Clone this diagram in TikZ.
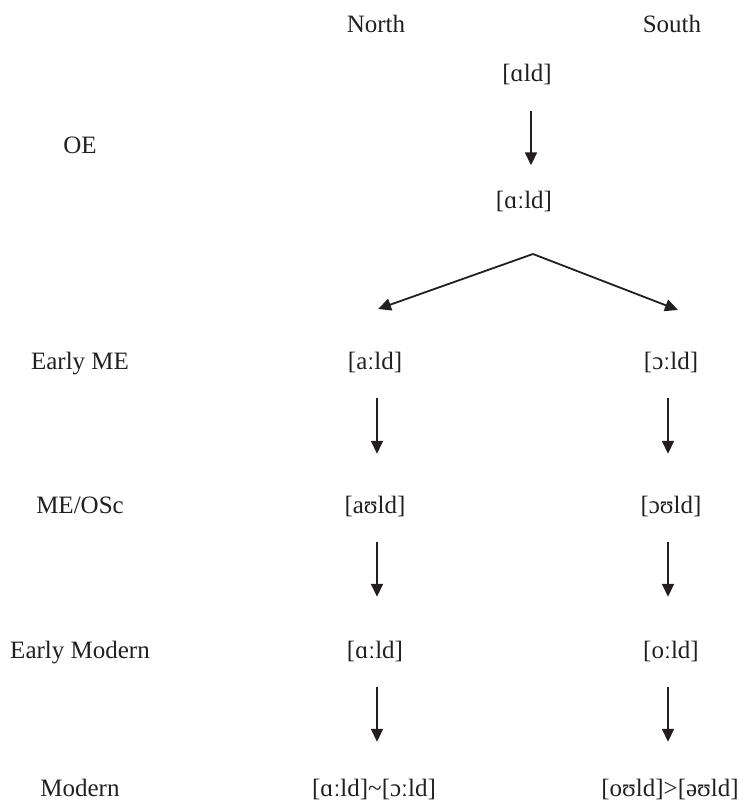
\documentclass[tikz,border=0pt]{standalone}
\usepackage{fontspec}
\setmainfont{Liberation Serif}
\usetikzlibrary{arrows.meta}
\definecolor{ink}{HTML}{231F20}

\begin{document}
\begin{tikzpicture}[
  x=1pt, y=-1pt,
  form/.style={inner sep=0pt, anchor=base, text height=17pt, text depth=5pt, text=ink, font=\fontsize{25}{30}\selectfont},
  line/.style={-{Triangle[length=13pt, width=12pt]}, line width=1.8pt, draw=ink},
  down/.style={line, shorten <=24pt, shorten >=42pt}
]
\useasboundingbox (0,0) rectangle (744,806);

\node[form] (north) at (376,32) {North};
\node[form] (south) at (672,32) {South};

\node[form] (oe)   at (80,153) {OE};
\node[form] (eme)  at (80,369) {Early ME};
\node[form] (meosc) at (80,513) {ME/OSc};
\node[form] (emod) at (80,658) {Early Modern};
\node[form] (mod)  at (80,796) {Modern};

\node[form] (oeA) at (527,81.5) {[ɑld]};
\node[form] (oeB) at (524,208.5) {[ɑːld]};

\node[form] (emeN) at (375,369) {[aːld]};
\node[form] (emeS) at (671,369) {[ɔːld]};
\node[form] (meN)  at (375,513) {[aʊld]};
\node[form] (meS)  at (671,513) {[ɔʊld]};
\node[form] (emodN) at (375,658) {[ɑːld]};
\node[form] (emodS) at (671,658) {[oːld]};
\node[form] (modN) at (374,796) {[ɑːld]\char"007E[ɔːld]};
\node[form] (modS) at (670,796) {[oʊld]>[əʊld]};

\coordinate (fork) at (533,254);
\coordinate (toN) at (378,309);
\coordinate (toS) at (678,310);

% vertical steps, kept straight with |-
\draw[down, shorten >=26pt] ([xshift=4pt]oeA.south) -- ([xshift=4pt]oeA.south |- oeB.north);

\draw[line] (fork) -- (toN);
\draw[line] (fork) -- (toS);

\draw[down] ([xshift=2pt]emeN.south) -- ([xshift=2pt]emeN.south |- meN.north);
\draw[down] ([xshift=-3pt]emeS.south) -- ([xshift=-3pt]emeS.south |- meS.north);
\draw[down, shorten >=44pt] ([xshift=2pt]meN.south) -- ([xshift=2pt]meN.south |- emodN.north);
\draw[down, shorten >=44pt] ([xshift=-3pt]meS.south) -- ([xshift=-3pt]meS.south |- emodS.north);
\draw[down, shorten >=37pt] ([xshift=2pt]emodN.south) -- ([xshift=2pt]emodN.south |- modN.north);
\draw[down, shorten >=37pt] ([xshift=-3pt]emodS.south) -- ([xshift=-3pt]emodS.south |- modS.north);
\end{tikzpicture}
\end{document}
